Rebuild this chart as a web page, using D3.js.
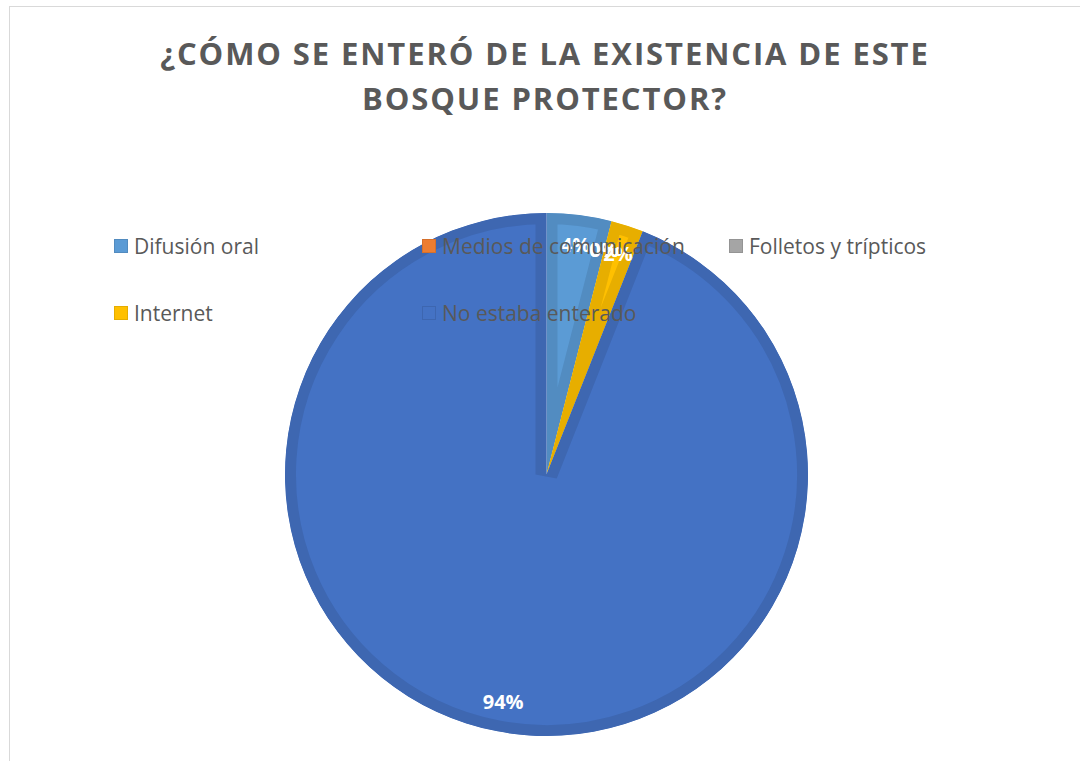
<!DOCTYPE html>
<html>
<head>
<meta charset="utf-8">
<script src="https://cdn.jsdelivr.net/npm/d3@7"></script>
<style>
  body { margin: 0; background: #fff; }
  svg { display: block; }
</style>
</head>
<body>
<div id="chart"></div>
<script>
const categories = ["Difusión oral", "Medios de comunicación", "Folletos y trípticos", "Internet", "No estaba enterado"];
const values = [4, 0, 0, 2, 94];
const colors = ["#5B9BD5", "#ED7D31", "#A5A5A5", "#FFC000", "#4472C4"];
const titleLines = ["¿CÓMO SE ENTERÓ DE LA EXISTENCIA DE ESTE", "BOSQUE PROTECTOR?"];

const width = 1080, height = 761;
const cx = 546.5, cy = 474.5, radius = 261.5;

const svg = d3.select("#chart").append("svg")
  .attr("width", width)
  .attr("height", height);

// chart frame
svg.append("rect")
  .attr("x", 9.5).attr("y", 6.5)
  .attr("width", 1100).attr("height", 800)
  .attr("fill", "#fff")
  .attr("stroke", "#D9D9D9")
  .attr("stroke-width", 1);

// title
svg.append("g")
  .selectAll("text")
  .data(titleLines)
  .join("text")
  .attr("x", 545)
  .attr("y", (d, i) => 65 + i * 45)
  .attr("text-anchor", "middle")
  .attr("font-family", "'Open Sans', sans-serif")
  .attr("font-weight", "bold")
  .attr("font-size", 31)
  .attr("letter-spacing", 1.9)
  .attr("fill", "#595959")
  .text(d => d);

const data = categories.map((c, i) => ({ name: c, value: values[i], color: colors[i] }));

const pie = d3.pie().sort(null).value(d => d.value);
const arcs = pie(data);
const arc = d3.arc().innerRadius(0).outerRadius(radius);
const labelArc = d3.arc().innerRadius(radius * 0.885).outerRadius(radius * 0.885);

const defs = svg.append("defs");
const pieG = svg.append("g").attr("transform", `translate(${cx},${cy})`);

// slices with an inner darker rim (stroke clipped to the slice)
arcs.forEach((a, i) => {
  if (a.value === 0) return;
  const id = "clip" + i;
  defs.append("clipPath").attr("id", id)
    .append("path").attr("d", arc(a));
  pieG.append("path")
    .attr("d", arc(a))
    .attr("fill", a.data.color)
    .attr("stroke", d3.color(a.data.color).darker(0.28))
    .attr("stroke-width", 22)
    .attr("clip-path", `url(#${id})`);
});

// data labels
pieG.selectAll("text.label")
  .data(arcs)
  .join("text")
  .attr("class", "label")
  .attr("transform", d => `translate(${labelArc.centroid(d)})`)
  .attr("text-anchor", "middle")
  .attr("dy", "0.35em")
  .attr("font-family", "'Open Sans', sans-serif")
  .attr("font-weight", "bold")
  .attr("font-size", 20)
  .attr("fill", "#fff")
  .text(d => d.value + "%");

// legend
const legendPos = [[114, 246], [422, 246], [729, 246], [114, 313], [422, 313]];
const legend = svg.append("g")
  .selectAll("g")
  .data(data)
  .join("g")
  .attr("transform", (d, i) => `translate(${legendPos[i][0]},${legendPos[i][1]})`);

legend.append("rect")
  .attr("x", 0.5).attr("y", -6.5)
  .attr("width", 13).attr("height", 13)
  .attr("fill", d => d.color)
  .attr("stroke", d => d3.color(d.color).darker(0.3))
  .attr("stroke-width", 1);

legend.append("text")
  .attr("x", 20)
  .attr("y", 0)
  .attr("dy", "0.36em")
  .attr("font-family", "'Open Sans', sans-serif")
  .attr("font-size", 21)
  .attr("fill", "#595959")
  .text(d => d.name);
</script>
</body>
</html>
